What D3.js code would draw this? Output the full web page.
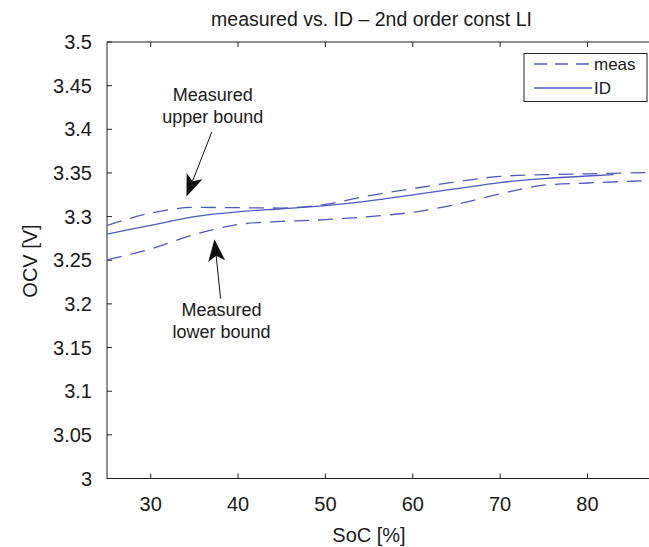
<!DOCTYPE html>
<html>
<head>
<meta charset="utf-8">
<script src="https://cdn.jsdelivr.net/npm/d3@7/dist/d3.min.js"></script>
<style>
  html, body { margin: 0; padding: 0; background: #fff; }
  svg { display: block; }
  text { font-family: "Liberation Sans", Arial, sans-serif; fill: #1a1a1a; }
</style>
</head>
<body>
<svg id="chart" width="649" height="547"></svg>
<script>
// ---- data ----
const socMeas = [25, 30, 35, 40, 45, 50, 55, 60, 65, 70, 75, 80, 85, 90];
const measUpper = [3.290, 3.304, 3.3105, 3.3102, 3.3098, 3.314, 3.324, 3.332, 3.340, 3.346, 3.348, 3.349, 3.350, 3.351];
const measLower = [3.2505, 3.263, 3.2795, 3.291, 3.2945, 3.2965, 3.300, 3.305, 3.314, 3.326, 3.336, 3.3385, 3.3405, 3.342];
const socID = [25, 30, 35, 40, 45, 50, 55, 60, 65, 70, 75, 80, 83];
const ocvID = [3.280, 3.290, 3.300, 3.3055, 3.309, 3.3125, 3.318, 3.325, 3.332, 3.339, 3.3435, 3.3465, 3.348];
const xTicks = [30, 40, 50, 60, 70, 80];
const yTicks = [3, 3.05, 3.1, 3.15, 3.2, 3.25, 3.3, 3.35, 3.4, 3.45, 3.5];
const yTickLabels = ["3", "3.05", "3.1", "3.15", "3.2", "3.25", "3.3", "3.35", "3.4", "3.45", "3.5"];
const legendLabels = ["meas", "ID"];
const titleText = "measured vs. ID \u2013 2nd order const LI";
const xLabel = "SoC [%]";
const yLabel = "OCV [V]";
// annotations: text lines, text anchor (SoC, OCV baseline of first line), arrow tail, arrow tip
const annUpperLines = ["Measured", "upper bound"];
const annUpperText = [37.1, 3.432];
const annUpperTail = [37.0, 3.397];
const annUpperTip = [34.1, 3.323];
const annLowerLines = ["Measured", "lower bound"];
const annLowerText = [38.1, 3.186];
const annLowerTail = [38.0, 3.206];
const annLowerTip = [37.3, 3.274];

// ---- layout ----
const svg = d3.select("#chart");
const L = 107, R = 653, T = 42, B = 478.5;
const x = d3.scaleLinear().domain([25, 87.5]).range([L, R]);
const y = d3.scaleLinear().domain([3, 3.5]).range([B, T]);
const lineColor = "#5058c0";

svg.append("defs").append("clipPath").attr("id", "clip")
  .append("rect").attr("x", L).attr("y", T).attr("width", R - L).attr("height", B - T);

// frame
svg.append("rect").attr("x", L).attr("y", T).attr("width", R - L).attr("height", B - T)
  .attr("fill", "none").attr("stroke", "#222").attr("stroke-width", 1);

// ticks
const tk = 5;
svg.append("g").selectAll("line").data(xTicks).join("line")
  .attr("x1", d => x(d)).attr("x2", d => x(d)).attr("y1", B).attr("y2", B - tk)
  .attr("stroke", "#222");
svg.append("g").selectAll("line").data(xTicks).join("line")
  .attr("x1", d => x(d)).attr("x2", d => x(d)).attr("y1", T).attr("y2", T + tk)
  .attr("stroke", "#222");
svg.append("g").selectAll("line").data(yTicks).join("line")
  .attr("x1", L).attr("x2", L + tk).attr("y1", d => y(d)).attr("y2", d => y(d))
  .attr("stroke", "#222");

// tick labels
svg.append("g").selectAll("text").data(xTicks).join("text")
  .attr("x", d => x(d)).attr("y", 511).attr("text-anchor", "middle")
  .attr("font-size", 20).text(d => d);
svg.append("g").selectAll("text").data(yTicks).join("text")
  .attr("x", 92).attr("y", d => y(d) + 7).attr("text-anchor", "end")
  .attr("font-size", 20).text((d, i) => yTickLabels[i]);

// axis labels & title
svg.append("text").attr("x", 369).attr("y", 542).attr("text-anchor", "middle")
  .attr("font-size", 20).text(xLabel);
svg.append("text").attr("transform", "translate(37,261) rotate(-90)")
  .attr("text-anchor", "middle").attr("font-size", 20).text(yLabel);
svg.append("text").attr("x", 371.5).attr("y", 26).attr("text-anchor", "middle")
  .attr("font-size", 19.5).text(titleText);

// lines
const plot = svg.append("g").attr("clip-path", "url(#clip)");
const mk = (xs) => d3.line().x((d, i) => x(xs[i])).y(d => y(d)).curve(d3.curveMonotoneX);
plot.append("path").datum(measUpper).attr("d", mk(socMeas))
  .attr("fill", "none").attr("stroke", lineColor).attr("stroke-width", 1.3)
  .attr("stroke-dasharray", "15,9");
plot.append("path").datum(measLower).attr("d", mk(socMeas))
  .attr("fill", "none").attr("stroke", lineColor).attr("stroke-width", 1.3)
  .attr("stroke-dasharray", "15,9");
plot.append("path").datum(ocvID).attr("d", mk(socID))
  .attr("fill", "none").attr("stroke", lineColor).attr("stroke-width", 1.3);

// annotations
function annotate(lines, tpos, tail, tip) {
  const g = svg.append("g");
  lines.forEach((s, i) => {
    g.append("text").attr("x", x(tpos[0])).attr("y", y(tpos[1]) + i * 21.5)
      .attr("text-anchor", "middle").attr("font-size", 18).text(s);
  });
  const x1 = x(tail[0]), y1 = y(tail[1]), x2 = x(tip[0]), y2 = y(tip[1]);
  const ang = Math.atan2(y2 - y1, x2 - x1);
  const hl = 22, hw = 8.5;
  const bx = x2 - hl * Math.cos(ang), by = y2 - hl * Math.sin(ang);
  const nx = -Math.sin(ang), ny = Math.cos(ang);
  const ix = x2 - 0.75 * hl * Math.cos(ang), iy = y2 - 0.75 * hl * Math.sin(ang);
  g.append("line").attr("x1", x1).attr("y1", y1).attr("x2", ix).attr("y2", iy)
    .attr("stroke", "#111").attr("stroke-width", 1);
  g.append("path").attr("d", d3.line()([
      [x2, y2],
      [bx + nx * hw, by + ny * hw],
      [ix, iy],
      [bx - nx * hw, by - ny * hw]
    ]) + "Z").attr("fill", "#111");
}
annotate(annUpperLines, annUpperText, annUpperTail, annUpperTip);
annotate(annLowerLines, annLowerText, annLowerTail, annLowerTip);

// legend
const lg = svg.append("g");
lg.append("rect").attr("x", 524).attr("y", 53.5).attr("width", 123).attr("height", 48)
  .attr("fill", "#fff").attr("stroke", "#222").attr("stroke-width", 1);
legendLabels.forEach((lab, i) => {
  const yy = 64 + i * 24;
  lg.append("line").attr("x1", 534).attr("x2", 592).attr("y1", yy).attr("y2", yy)
    .attr("stroke", lineColor).attr("stroke-width", 1.3)
    .attr("stroke-dasharray", i === 0 ? "13,8" : null);
  lg.append("text").attr("x", 594).attr("y", yy + 6).attr("font-size", 17).text(lab);
});
</script>
</body>
</html>
